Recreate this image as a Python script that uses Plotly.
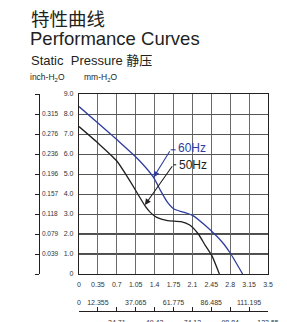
import plotly.graph_objects as go

# ---- data ----
flow_60 = [0, 0.35, 0.7, 1.09, 1.38, 1.51, 1.64, 1.76, 1.95, 2.11, 2.34, 2.65, 2.8, 3.03]
pres_60 = [8.37, 7.55, 6.72, 5.75, 4.83, 4.17, 3.58, 3.25, 3.08, 2.92, 2.42, 1.6, 1.05, 0]
flow_50 = [0, 0.35, 0.7, 0.94, 1.22, 1.32, 1.44, 1.64, 1.89, 2.05, 2.21, 2.34, 2.46, 2.6]
pres_50 = [7.37, 6.55, 5.65, 4.67, 3.42, 3.08, 2.83, 2.67, 2.62, 2.45, 2.0, 1.42, 0.92, 0]

cfm_ticks = [0, 0.35, 0.7, 1.05, 1.4, 1.75, 2.1, 2.45, 2.8, 3.15, 3.5]
cfm_labels = ["0", "0.35", "0.7", "1.05", "1.4", "1.75", "2.1", "2.45", "2.8", "3.15", "3.5"]
mm_ticks = [0, 1, 2, 3, 4, 5, 6, 7, 8, 9]
mm_labels = ["0", "1.0", "2.0", "3.0", "4.0", "5.0", "6.0", "7.0", "8.0", "9.0"]
inch_labels = ["0", "0.039", "0.079", "0.118", "0.157", "0.196", "0.236", "0.276", "0.315", "0.354"]
m3_ticks = [0, 12.355, 24.71, 37.065, 49.42, 61.775, 74.13, 86.485, 98.84, 111.195, 123.55]
m3_up = ["0", "12.355", "", "37.065", "", "61.775", "", "86.485", "", "111.195", ""]
m3_down = ["", "", "24.71", "", "49.42", "", "74.13", "", "98.84", "", "123.55"]

BLUE = "#2e3d9e"
DARK = "#231f20"
NARROW = "Liberation Sans Narrow, Arial Narrow, Liberation Sans, Arial"
SANS = "Liberation Sans, Arial, Noto Sans CJK SC"

fig = go.Figure()
fig.add_trace(go.Scatter(x=flow_60, y=pres_60, mode="lines",
                         line=dict(color=BLUE, width=1.3, shape="spline", smoothing=0.6),
                         showlegend=False, hoverinfo="skip"))
fig.add_trace(go.Scatter(x=flow_50, y=pres_50, mode="lines",
                         line=dict(color=DARK, width=1.3, shape="spline", smoothing=0.6),
                         showlegend=False, hoverinfo="skip"))
fig.add_trace(go.Scatter(x=[None], y=[None], yaxis="y2", showlegend=False, hoverinfo="skip"))
fig.add_trace(go.Scatter(x=[None], y=[None], xaxis="x2", showlegend=False, hoverinfo="skip"))
fig.add_trace(go.Scatter(x=[None], y=[None], xaxis="x3", showlegend=False, hoverinfo="skip"))

# the page body has an 8px default margin, so the figure starts at (8, 8)
OFF = 8
W, H = 287 - OFF, 322 - OFF
# reference-pixel geometry
REF_LEFT_AXIS, REF_PLOT_L, REF_PLOT_R = 39, 79, 268
REF_PLOT_T, REF_PLOT_B, REF_SEC_AXIS = 94, 274, 311

ML = REF_LEFT_AXIS - OFF
MR = W - (REF_PLOT_R - OFF)
MT = REF_PLOT_T - OFF
MB = H - (REF_SEC_AXIS - OFF)
pw = W - ML - MR
ph = H - MT - MB
xdom0 = (REF_PLOT_L - REF_LEFT_AXIS) / pw
ydom0 = (REF_SEC_AXIS - REF_PLOT_B) / ph

tickfont = dict(family=NARROW, size=8, color="#333")
smallfont = dict(family=NARROW, size=7, color="#333")

fig.update_layout(
    template="none",
    width=W, height=H, autosize=False,
    margin=dict(l=ML, r=MR, t=MT, b=MB, pad=0),
    paper_bgcolor="white", plot_bgcolor="white",
    xaxis=dict(domain=[xdom0, 1], range=[0, 3.5], tickvals=cfm_ticks, ticktext=cfm_labels,
               showgrid=True, gridcolor="#6a6a6a", gridwidth=1.4, zeroline=False,
               showline=True, linecolor=DARK, linewidth=1.4, mirror=True, automargin=False,
               ticks="", tickfont=smallfont, ticklabelstandoff=3),
    yaxis=dict(domain=[ydom0, 1], range=[0, 9], tickvals=mm_ticks, ticktext=mm_labels,
               showgrid=True, gridcolor="#555555", gridwidth=1.4, zeroline=False,
               showline=True, linecolor=DARK, linewidth=1.4, mirror=True, automargin=False,
               ticks="", tickfont=smallfont, ticklabelstandoff=3),
    yaxis2=dict(overlaying="y", anchor="free", position=0, side="left",
                range=[0, 9], tickvals=mm_ticks, ticktext=inch_labels, automargin=False,
                showgrid=False, zeroline=False, showline=True, linecolor=DARK, linewidth=1.4,
                ticks="outside", ticklen=4, tickcolor=DARK, tickwidth=1.4,
                ticklabelposition="inside", tickfont=dict(family=NARROW, size=6.5, color="#333")),
    xaxis2=dict(overlaying="x", anchor="free", position=0, side="bottom",
                range=[0, 123.55], tickvals=m3_ticks, ticktext=m3_down, automargin=False,
                showgrid=False, zeroline=False, showline=True, linecolor=DARK, linewidth=1.4,
                ticks="inside", ticklen=4, tickcolor=DARK, tickwidth=1.4,
                tickfont=smallfont, ticklabelstandoff=4),
    xaxis3=dict(overlaying="x", anchor="free", position=0, side="top",
                range=[0, 123.55], tickvals=m3_ticks, ticktext=m3_up, automargin=False,
                showgrid=False, zeroline=False, showline=False, ticks="",
                tickfont=smallfont, ticklabelstandoff=5),
)

for yv in [1, 2]:
    fig.add_shape(type="line", xref="x", yref="y", x0=0, x1=3.5, y0=yv, y1=yv,
                  line=dict(color="#111", width=1.5), layer="below")


def px2paper(px, py):
    # reference pixel -> paper fraction
    return (px - REF_LEFT_AXIS) / pw, (REF_SEC_AXIS - py) / ph


texts = [
    ("特性曲线", 29, 18.5, 18.5, "#231f20", "Noto Sans CJK SC"),
    ("Performance Curves", 28, 38, 18.5, "#231f20", SANS),
    ("Static\u00a0 Pressure 静压", 29, 60.5, 13, "#231f20", SANS),
    ("inch-H<sub>2</sub>O", 28, 77, 8.5, "#231f20", SANS),
    ("mm-H<sub>2</sub>O", 82, 77, 8.5, "#231f20", SANS),
    ("CFM", 280, 286, 9, "#333", SANS),
]
for t, px, py, sz, col, fam in texts:
    xp, yp = px2paper(px, py)
    fig.add_annotation(text=t, xref="paper", yref="paper", x=xp, y=yp,
                       xanchor="left", yanchor="middle", showarrow=False,
                       font=dict(size=sz, color=col, family=fam))

callouts = [
    ("60Hz", BLUE, (1.38, 4.83), (1.698, 6.21), 1.80, 6.28),
    ("50Hz", DARK, (1.22, 3.45), (1.746, 5.46), 1.81, 5.46),
]
for lab, col, tip, tail, tx, ty in callouts:
    fig.add_annotation(x=tip[0], y=tip[1], ax=tail[0], ay=tail[1], xref="x", yref="y",
                       axref="x", ayref="y", text="", showarrow=True, arrowhead=2,
                       arrowsize=1.1, arrowwidth=1.1, arrowcolor=col)
    fig.add_shape(type="line", xref="x", yref="y", x0=tail[0], x1=tx - 0.01,
                  y0=tail[1], y1=tail[1], line=dict(color=col, width=1.1))
    fig.add_annotation(x=tx, y=ty, xref="x", yref="y", text=lab, showarrow=False,
                       xanchor="left", yanchor="middle",
                       font=dict(size=12, color=col, family=NARROW))

fig.write_html("out.html")
